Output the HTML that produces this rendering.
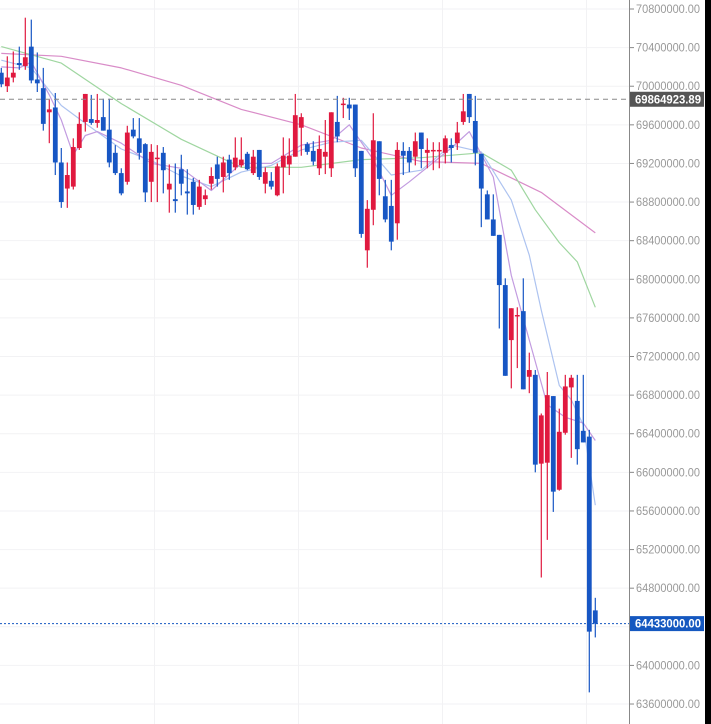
<!DOCTYPE html>
<html><head><meta charset="utf-8"><style>
html,body{margin:0;padding:0;background:#fff;width:711px;height:724px;overflow:hidden}
svg{display:block;font-family:"Liberation Sans",Arial,sans-serif}
</style></head><body>
<svg id="chart" width="711" height="724" viewBox="0 0 711 724" xmlns="http://www.w3.org/2000/svg">
<g id="grid"></g>
<g id="mas"></g>
<g id="candles"></g>
<g id="axis"></g>
<rect x="705" y="0" width="6" height="724" fill="#000"/>
</svg>
<script>
const opens  =[70.14,70.00,70.09,70.24,70.21,70.41,70.07,69.98,69.73,69.78,69.21,68.94,68.96,69.36,69.63,69.66,69.62,69.68,69.55,69.31,69.10,69.01,69.55,69.46,69.40,69.01,69.25,69.31,68.93,68.83,69.14,68.91,69.01,68.75,68.83,68.99,69.19,69.06,69.24,69.16,69.18,69.30,69.10,69.34,68.99,69.02,68.87,69.16,69.19,69.27,69.57,69.40,69.33,69.15,69.27,69.15,69.63,69.81,69.81,69.81,69.33,68.30,68.72,69.43,68.86,68.76,68.58,69.33,69.33,69.27,69.52,69.31,69.33,69.33,69.31,69.39,69.41,69.63,69.92,69.64,69.30,68.88,68.62,68.46,67.94,67.37,67.62,67.67,66.99,67.01,66.09,66.10,66.79,65.82,66.41,66.88,66.74,66.43,66.37,64.57];
const highs  =[70.19,70.31,70.36,70.41,70.71,70.69,70.35,70.19,69.86,69.93,69.36,69.21,69.46,69.73,69.92,69.91,69.92,69.87,69.87,69.39,69.15,69.59,69.67,69.67,69.41,69.40,69.39,69.37,69.19,69.20,69.29,69.14,69.05,69.03,68.93,69.16,69.27,69.27,69.29,69.47,69.47,69.32,69.34,69.34,69.16,69.11,69.20,69.47,69.46,69.92,69.72,69.42,69.43,69.49,69.65,69.73,69.90,69.88,69.88,69.81,69.33,68.82,69.72,69.43,69.03,69.03,69.42,69.42,69.37,69.52,69.52,69.46,69.42,69.42,69.49,69.46,69.63,69.92,69.92,69.90,69.30,68.92,68.88,68.46,68.01,67.70,67.71,68.01,67.24,67.06,66.61,67.04,66.79,66.66,67.01,67.01,67.01,67.01,66.44,64.70];
const lows   =[69.99,69.94,70.04,70.17,70.17,70.03,69.94,69.54,69.41,69.08,68.74,68.74,68.93,69.34,69.53,69.60,69.57,69.54,69.16,69.08,68.87,68.98,69.46,69.24,68.80,68.80,68.80,68.89,68.69,68.69,68.87,68.67,68.67,68.72,68.77,68.93,68.96,68.90,69.03,69.13,69.16,69.13,69.08,69.03,68.89,68.93,68.86,68.89,69.08,69.27,69.28,69.29,69.18,69.08,69.09,69.06,69.42,69.67,69.65,69.06,68.43,68.12,68.56,68.87,68.59,68.30,68.41,69.08,69.11,69.18,69.15,69.15,69.13,69.15,69.20,69.21,69.34,69.60,69.62,69.18,68.54,68.62,68.45,67.49,67.00,66.87,67.08,66.86,66.82,66.00,64.91,65.30,65.59,65.81,66.39,66.15,66.08,66.31,63.72,64.29];
const closes =[70.02,70.09,70.14,70.22,70.30,70.06,70.03,69.61,69.76,69.21,68.80,69.08,69.37,69.61,69.92,69.62,69.65,69.54,69.21,69.10,68.89,69.52,69.48,69.31,68.90,69.32,69.26,69.13,68.99,68.81,68.99,68.89,68.77,68.96,68.87,69.07,69.04,69.21,69.10,69.26,69.24,69.14,69.27,69.06,69.11,68.96,69.17,69.28,69.28,69.70,69.68,69.32,69.22,69.35,69.32,69.73,69.48,69.82,69.77,69.15,68.47,68.73,69.44,69.04,68.62,68.39,69.34,69.28,69.21,69.43,69.35,69.34,69.34,69.34,69.46,69.36,69.52,69.74,69.68,69.31,68.94,68.62,68.45,67.94,67.00,67.70,67.63,66.86,67.06,66.08,66.59,66.80,65.80,66.42,66.89,66.98,66.24,66.31,64.35,64.433];
const slowIdx=[0,10,20,30,40,50,60,70,80,90,99];
const slowVal=[70.34,70.31,70.19,70.01,69.76,69.60,69.36,69.22,69.20,68.90,68.48];
const greenIdx=[0,10,20,30,40,50,60,70,80,85,89,93,96,99];
const greenVal=[70.41,70.24,69.82,69.45,69.16,69.16,69.24,69.26,69.31,69.13,68.72,68.38,68.18,67.71];
const blueIdx=[0,5,10,15,20,25,30,35,40,45,50,55,60,65,70,75,80,85,88,90,93,95,97,99];
const blueVal=[70.27,70.19,69.80,69.57,69.35,69.23,69.07,68.96,69.11,69.18,69.34,69.42,69.44,69.08,69.13,69.39,69.32,68.82,68.25,67.68,66.90,66.75,66.49,65.66];
const lavIdx=[0,3,5,8,10,12,14,16,20,25,30,35,40,45,50,55,58,62,65,68,75,78,82,85,88,91,94,97,99];
const lavVal=[70.20,70.19,70.25,69.91,69.65,69.29,69.49,69.53,69.41,69.20,69.15,68.92,69.20,69.20,69.39,69.44,69.60,69.24,68.87,69.01,69.36,69.53,69.06,68.04,67.37,66.70,66.57,66.51,66.33];
const yTicks=[70.8,70.4,70.0,69.6,69.2,68.8,68.4,68.0,67.6,67.2,66.8,66.4,66.0,65.6,65.2,64.8,64.4,64.0,63.6];
const highMark=69.86492389;
const lastPrice=64.433;

const NS="http://www.w3.org/2000/svg";
function Y(v){return 9+(70.8-v)*96.53;}
function X(i){return 1.3+6*i;}
function mk(tag,attrs,parent){const e=document.createElementNS(NS,tag);for(const k in attrs)e.setAttribute(k,attrs[k]);parent.appendChild(e);return e;}
const grid=document.getElementById('grid'),mas=document.getElementById('mas'),cg=document.getElementById('candles'),ax=document.getElementById('axis');

yTicks.forEach(v=>{
  const l=mk('line',{x1:0,x2:629,y1:Y(v),y2:Y(v),stroke:'#f2f2f4','stroke-width':1},grid);
  
  
});
[25.5,49.5,73.5,97.5].forEach(i=>{
  const l=mk('line',{x1:X(i)+0.2,x2:X(i)+0.2,y1:0,y2:724,stroke:'#f2f2f4','stroke-width':1},grid);
  
  
});

function line(idx,val,color,name){
  const d=idx.map((i,k)=>(k?'L':'M')+X(i).toFixed(1)+' '+Y(val[k]).toFixed(1)).join(' ');
  const p=mk('path',{d:d,fill:'none',stroke:color,'stroke-width':1.2,'stroke-linejoin':'round'},mas);
  
  
}
line(slowIdx,slowVal,'#d98cc8','slow-ma-line');
line(greenIdx,greenVal,'#9fd6a0','mid-ma-line');
line(blueIdx,blueVal,'#adc3f0','fast-ma-line');
line(lavIdx,lavVal,'#c29be0','faster-ma-line');

const hl=mk('line',{x1:0,x2:629,y1:Y(highMark),y2:Y(highMark),stroke:'#888','stroke-width':1,'stroke-dasharray':'5,4'},ax);


const cl=mk('line',{x1:0,x2:629,y1:Y(lastPrice),y2:Y(lastPrice),stroke:'#1558c0','stroke-width':1,'stroke-dasharray':'2,2'},ax);



opens.forEach((o,i)=>{
  const c=closes[i],up=c>=o,col=up?'#e0193f':'#1756c4';
  const g=mk('g',{},cg);
  
  
  mk('line',{x1:X(i),x2:X(i),y1:Y(highs[i]),y2:Y(lows[i]),stroke:col,'stroke-width':1.2},g);
  const t=Y(Math.max(o,c)),b=Y(Math.min(o,c));
  mk('rect',{x:X(i)-2.4,y:t,width:4.8,height:Math.max(1.5,b-t),fill:col},g);
});

mk('line',{x1:629.5,x2:629.5,y1:0,y2:724,stroke:'#888','stroke-width':1},ax);
yTicks.forEach(v=>{
  mk('line',{x1:629,x2:634,y1:Y(v),y2:Y(v),stroke:'#888','stroke-width':1},ax);
  const t=mk('text',{x:636,y:Y(v)+4,'font-size':11.5,fill:'#999',textLength:64,lengthAdjust:'spacingAndGlyphs'},ax);
  t.textContent=(v*1e6).toFixed(2);
  
  
});
function badge(v,bg,name,txt){
  const g=mk('g',{},ax);
  
  
  mk('rect',{x:630,y:Y(v)-7.5,width:74,height:15,fill:bg},g);
  const t=mk('text',{x:635,y:Y(v)+4,'font-size':11.5,'font-weight':'bold',fill:'#fff',textLength:66,lengthAdjust:'spacingAndGlyphs'},g);
  t.textContent=txt;
}
badge(highMark,'#555','high-price-badge','69864923.89');
badge(lastPrice,'#1558c0','last-price-badge','64433000.00');
</script>
</body></html>
